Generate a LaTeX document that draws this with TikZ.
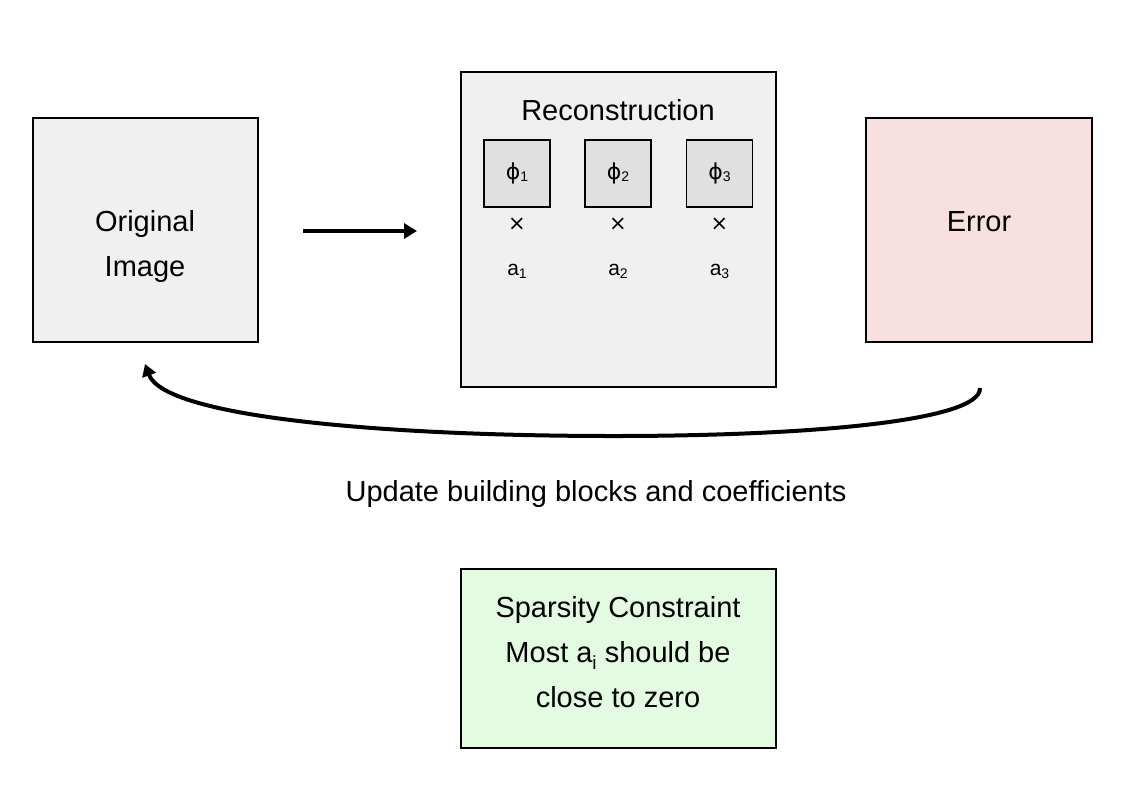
\documentclass[tikz,border=0pt]{standalone}
\usepackage{fontspec}
\setmainfont{Liberation Sans}
\newfontfamily\symfont{DejaVu Sans}
\usetikzlibrary{arrows.meta}
\definecolor{boxgray}{HTML}{F0F0F0}
\definecolor{phigray}{HTML}{E0E0E0}
\definecolor{errpink}{HTML}{F8E0E0}
\definecolor{sparsegreen}{HTML}{E3FBE0}
\tikzset{
  box/.style={draw=black, line width=1.6pt, inner sep=0pt},
  phibox/.style={box, fill=phigray, minimum width=66pt, minimum height=67pt, font=\fontsize{22}{24}\selectfont},
  bigtext/.style={font=\fontsize{29}{45}\selectfont, align=center, inner sep=0pt},
  smalltext/.style={font=\fontsize{21}{24}\selectfont, inner sep=0pt},
  flow/.style={line width=3.8pt, -{Triangle[length=13pt,width=15pt]}},
  feedback/.style={line width=4pt, -{Triangle[length=12pt,width=14pt]}},
}
\newcommand{\phisub}[1]{{\symfont ϕ}\raisebox{-2pt}{\fontsize{14}{14}\selectfont #1}}
\newcommand{\asub}[1]{a\raisebox{-3pt}{\fontsize{14}{14}\selectfont #1}}
\begin{document}
\begin{tikzpicture}[x=1pt,y=-1pt]
\useasboundingbox (0,0) rectangle (1126,788);
% Original image
\node[box, fill=boxgray, minimum width=225pt, minimum height=224pt] (orig) at (145.5,230) {};
\node[bigtext] (origtxt) at (145,246) {Original\\Image};
% Reconstruction
\node[box, fill=boxgray, minimum width=315pt, minimum height=315pt] (rec) at (618.5,229.5) {};
\node[bigtext] (rectitle) at (618,110) {Reconstruction};
\node[phibox] (p1) at (517,173.5) {\phisub{1}};
\node[phibox] (p2) at (618,173.5) {\phisub{2}};
\node[phibox] (p3) at (719.5,173.5) {\phisub{3}};
\node[smalltext] (x1) at (517,224) {{\symfont ×}};
\node[smalltext] (x2) at (618,224) {{\symfont ×}};
\node[smalltext] (x3) at (719.5,224) {{\symfont ×}};
\node[smalltext] (a1) at (517,271) {\asub{1}};
\node[smalltext] (a2) at (618,271) {\asub{2}};
\node[smalltext] (a3) at (719.5,271) {\asub{3}};
% Error
\node[box, fill=errpink, minimum width=226pt, minimum height=224pt] (err) at (979,230) {};
\node[bigtext] (errtxt) at (979,222) {Error};
% Sparsity
\node[box, fill=sparsegreen, minimum width=315pt, minimum height=179pt] (sp) at (618.5,658.5) {};
\node[bigtext] (sptxt) at (618,652) {Sparsity Constraint\\Most a\raisebox{-7pt}{\fontsize{19}{20}\selectfont i} should be\\close to zero};
% Update label
\node[bigtext] (upd) at (596,494) {Update building blocks and coefficients};
% arrows
\coordinate (fs) at (303,231);
\coordinate (fe) at (417,231);
\draw[flow] (fs) -- (fe);
\coordinate (bs) at (980,388);
\coordinate (bm) at (614,436);
\coordinate (be) at (145,364);
\draw[feedback] (bs) .. controls (981,422) and (800,436) .. (bm)
  .. controls (390,436) and (165,418) .. (be);
\end{tikzpicture}
\end{document}
